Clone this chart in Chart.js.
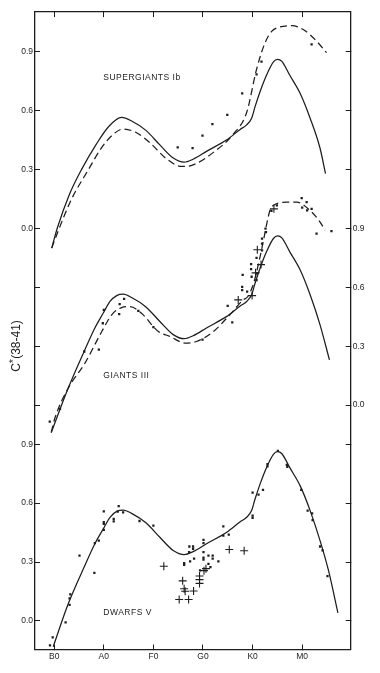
<!DOCTYPE html>
<html>
<head>
<meta charset="utf-8">
<script src="https://cdn.jsdelivr.net/npm/chart.js@4.4.1/dist/chart.umd.min.js"></script>
<style>
  html, body { margin: 0; padding: 0; background: #ffffff; }
  canvas { display: block; }
</style>
</head>
<body>
<canvas id="c" width="380" height="673"></canvas>
<script>
// ---------- DATA ----------
// Spectral type axis: subclasses counted from B0 (B0=0, A0=10, F0=20, G0=30, K0=40, M0=50)
const spectralTicks = [0, 10, 20, 30, 40, 50];
const spectralLabels = ['B0', 'A0', 'F0', 'G0', 'K0', 'M0'];
const cTicks = [0.0, 0.3, 0.6, 0.9];
const panelNames = ['SUPERGIANTS Ib', 'GIANTS III', 'DWARFS V'];

// Mean dwarf relation (solid curve, repeated in every panel)
const dwarfMeanX = [-0.2, 2.85, 6.2, 8.2, 9.9, 11.25, 12.6, 13.9, 15.6, 18.5, 21.3, 24.0, 26.2, 28.0, 30.7, 34.8, 37.5, 38.8, 39.8, 40.5, 41.5, 42.8, 44.2, 45.05, 45.9, 47.5, 49.6, 51.6, 53.6, 55.3, 57.2];
const dwarfMeanY = [-0.132, 0.088, 0.283, 0.393, 0.469, 0.528, 0.558, 0.565, 0.548, 0.500, 0.426, 0.359, 0.338, 0.353, 0.393, 0.452, 0.505, 0.528, 0.562, 0.621, 0.697, 0.781, 0.849, 0.862, 0.852, 0.781, 0.688, 0.562, 0.409, 0.257, 0.041];

const giantSolidX = [-0.6, 2.85, 6.2, 8.2, 9.9, 11.25, 12.6, 13.9, 15.6, 18.5, 21.3, 24.0, 26.2, 28.0, 30.7, 34.8, 37.5, 38.8, 39.8, 40.5, 41.5, 42.8, 44.2, 45.05, 45.9, 47.5, 49.6, 51.6, 53.6, 55.5];
const giantSolidY = [-0.14, 0.088, 0.283, 0.393, 0.469, 0.528, 0.558, 0.565, 0.548, 0.500, 0.426, 0.359, 0.338, 0.353, 0.393, 0.452, 0.505, 0.528, 0.562, 0.621, 0.697, 0.781, 0.849, 0.862, 0.852, 0.781, 0.688, 0.562, 0.409, 0.23];

const superSolidX = [-0.5, 0.6, 3.0, 5.5, 8.5, 11.0, 13.6, 15.6, 18.5, 21.3, 24.0, 26.2, 28.0, 30.7, 34.8, 37.5, 38.8, 39.8, 40.5, 41.5, 42.8, 44.2, 45.05, 45.9, 47.5, 49.6, 51.6, 53.6, 54.7];
const superSolidY = [-0.10, 0.0, 0.17, 0.30, 0.43, 0.52, 0.566, 0.548, 0.500, 0.426, 0.359, 0.338, 0.353, 0.393, 0.452, 0.505, 0.528, 0.562, 0.621, 0.697, 0.781, 0.849, 0.862, 0.852, 0.781, 0.688, 0.562, 0.409, 0.28];

// Giant mean relation (dashed)
const giantDashX = [-0.6, 0.16, 2.85, 6.2, 9.6, 11.6, 13.6, 15.3, 17.6, 21.0, 23.3, 26.4, 28.7, 32.1, 35.4, 38.1, 39.0, 40.2, 41.2, 42.2, 42.85, 43.5, 44.2, 46.9, 48.9, 51.9, 53.6, 54.6];
const giantDashY = [-0.14, -0.065, 0.087, 0.214, 0.375, 0.46, 0.497, 0.502, 0.468, 0.375, 0.35, 0.316, 0.324, 0.375, 0.46, 0.536, 0.552, 0.62, 0.721, 0.84, 0.924, 0.992, 1.018, 1.034, 1.034, 0.984, 0.933, 0.891];

// Supergiant mean relation (dashed)
const superDashX = [-0.5, 1.0, 3.5, 6.9, 9.5, 11.9, 13.9, 16.6, 19.3, 22.7, 25.7, 28.0, 32.1, 36.1, 38.8, 40.8, 42.5, 43.9, 45.5, 47.9, 50.2, 52.9, 54.9];
const superDashY = [-0.10, 0.0, 0.15, 0.30, 0.41, 0.48, 0.507, 0.488, 0.437, 0.354, 0.316, 0.324, 0.388, 0.481, 0.591, 0.811, 0.946, 1.006, 1.027, 1.034, 1.014, 0.955, 0.896];

// Observed stars
const superDotX = [24.9, 27.9, 29.9, 31.9, 34.9, 37.9, 40.8, 41.8, 51.9];
const superDotY = [0.413, 0.41, 0.473, 0.532, 0.579, 0.689, 0.785, 0.85, 0.938];

const giantDotX = [-0.9, 1.17, 6.07, 9.0, 10.0, 9.8, 13.2, 13.1, 14.1, 16.96, 20.0, 29.9, 34.98, 35.9, 38.0, 37.9, 37.9, 38.9, 39.7, 39.7, 39.8, 40.8, 40.9, 40.8, 41.9, 41.9, 41.9, 42.6, 42.7, 43.8, 44.9, 49.9, 50.9, 50.0, 51.0, 51.9, 52.9, 55.9];
const giantDotY = [-0.085, -0.019, 0.273, 0.282, 0.485, 0.417, 0.515, 0.463, 0.541, 0.48, 0.397, 0.333, 0.505, 0.421, 0.663, 0.603, 0.586, 0.578, 0.718, 0.693, 0.654, 0.75, 0.671, 0.637, 0.823, 0.848, 0.789, 0.899, 0.882, 0.99, 1.018, 1.055, 1.034, 1.006, 0.992, 1.0, 0.874, 0.886];
const giantPlusX = [37.1, 39.9, 40.95, 41.7, 40.6, 44.3];
const giantPlusY = [0.536, 0.558, 0.792, 0.716, 0.674, 1.0];

const dwarfDotX = [-0.85, -0.3, 2.3, 3.1, 3.1, 3.25, 5.1, 8.1, 8.2, 9.0, 10.0, 10.0, 10.0, 10.0, 12.0, 12.0, 13.0, 12.8, 13.9, 17.2, 20.0,
  26.2, 26.2, 27.25, 28.0, 28.0, 27.2, 27.4, 28.2, 30.1, 30.1, 30.1, 30.1, 30.1, 31.1, 31.95, 31.95, 33.1, 29.4, 31.1, 31.5, 34.1, 34.1, 35.2,
  40.0, 40.0, 40.0, 41.2, 42.1, 43.0, 43.0, 45.1, 46.9, 47.0, 49.8, 51.1, 52.0, 52.1, 53.6, 54.1, 55.1];
const dwarfDotY = [-0.125, -0.084, -0.008, 0.082, 0.114, 0.135, 0.333, 0.244, 0.396, 0.409, 0.464, 0.494, 0.503, 0.558, 0.52, 0.507, 0.585, 0.557, 0.553, 0.509, 0.486,
  0.286, 0.294, 0.379, 0.379, 0.367, 0.35, 0.303, 0.317, 0.413, 0.396, 0.35, 0.322, 0.312, 0.333, 0.332, 0.317, 0.303, 0.257, 0.291, 0.274, 0.482, 0.435, 0.44,
  0.536, 0.525, 0.654, 0.643, 0.668, 0.799, 0.788, 0.866, 0.795, 0.785, 0.668, 0.562, 0.548, 0.514, 0.379, 0.359, 0.228];
const dwarfPlusX = [22.1, 25.9, 26.2, 26.4, 25.2, 27.1, 28.1, 29.3, 29.3, 29.3, 30.2, 30.6, 35.3, 38.3];
const dwarfPlusY = [0.278, 0.204, 0.164, 0.151, 0.109, 0.109, 0.152, 0.229, 0.21, 0.191, 0.256, 0.266, 0.364, 0.357];

// ---------- LAYOUT (panel stacking) ----------
const X_MIN = -3.87, X_MAX = 59.78;
const G_MIN = -0.146, G_MAX = 3.103;        // global vertical range in dwarf units
const OFFSET_SUPER = 2.0, OFFSET_GIANT = 1.1; // vertical shifts of the upper panels
const INK = '#1d1d1d';
const FONT = '"Liberation Sans", Arial, sans-serif';

const pts = (xs, ys) => xs.map((x, i) => ({ x: x, y: ys[i] }));

const leftTicks = [];
cTicks.forEach(t => leftTicks.push({ v: t, label: t.toFixed(1) }));
cTicks.forEach(t => { if (t < 0.9) leftTicks.push({ v: t + OFFSET_GIANT, label: '' }); });
cTicks.forEach(t => leftTicks.push({ v: t + OFFSET_SUPER, label: t.toFixed(1) }));
const rightTicks = [];
cTicks.forEach(t => rightTicks.push({ v: t, label: '' }));
cTicks.forEach(t => rightTicks.push({ v: t + OFFSET_GIANT, label: t.toFixed(1) }));
cTicks.forEach(t => { if (t > 0) rightTicks.push({ v: t + OFFSET_SUPER, label: '' }); });
const findLabel = (list, v) => { const f = list.find(t => Math.abs(t.v - v) < 1e-6); return f ? f.label : ''; };

const gridCfg = { drawOnChartArea: false, drawTicks: true, tickLength: -5, color: INK, lineWidth: 1 };
const borderCfg = { display: true, color: INK, width: 1.3 };
const tickFont = { family: FONT, size: 8.5 };

const lineDs = (xs, ys, axis, dashed) => ({
  type: 'line', data: pts(xs, ys), yAxisID: axis, borderColor: INK, borderWidth: 1.25,
  borderDash: dashed ? [7, 4] : [], pointRadius: 0, fill: false, cubicInterpolationMode: 'monotone'
});
const dotDs = (xs, ys, axis) => ({
  type: 'scatter', data: pts(xs, ys), yAxisID: axis, showLine: false, pointStyle: 'rect',
  pointRadius: 1.6, backgroundColor: INK, borderColor: INK, borderWidth: 0
});
const plusDs = (xs, ys, axis) => ({
  type: 'scatter', data: pts(xs, ys), yAxisID: axis, showLine: false, pointStyle: 'cross',
  pointRadius: 4, borderColor: INK, borderWidth: 1.1
});

const figText = {
  id: 'figText',
  afterDraw(chart) {
    const ctx = chart.ctx, xs = chart.scales.x;
    ctx.save();
    ctx.fillStyle = INK;
    ctx.font = '8.5px ' + FONT;
    if ('letterSpacing' in ctx) ctx.letterSpacing = '0.5px';
    ctx.textAlign = 'left';
    ctx.textBaseline = 'middle';
    const spots = [['ySG', 0.77], ['yG', 0.15], ['y', 0.04]];
    panelNames.forEach((name, i) => {
      ctx.fillText(name, xs.getPixelForValue(9.9), chart.scales[spots[i][0]].getPixelForValue(spots[i][1]));
    });
    if ('letterSpacing' in ctx) ctx.letterSpacing = '0px';
    // y-axis title C*(38-41)
    ctx.translate(16.5, 346);
    ctx.rotate(-Math.PI / 2);
    ctx.font = '12px ' + FONT;
    const a = 'C', b = '*', c = '(38-41)';
    const wa = ctx.measureText(a).width, wc = ctx.measureText(c).width;
    ctx.font = '11px ' + FONT;
    const wb = ctx.measureText(b).width;
    let x0 = -(wa + wb + wc) / 2;
    ctx.font = '12px ' + FONT;
    ctx.fillText(a, x0, 0);
    ctx.font = '11px ' + FONT;
    ctx.fillText(b, x0 + wa, -3);
    ctx.font = '12px ' + FONT;
    ctx.fillText(c, x0 + wa + wb, 0);
    ctx.restore();
  }
};

new Chart(document.getElementById('c'), {
  type: 'scatter',
  data: {
    datasets: [
      lineDs(superSolidX, superSolidY, 'ySG', false),
      lineDs(superDashX, superDashY, 'ySG', true),
      dotDs(superDotX, superDotY, 'ySG'),
      lineDs(giantSolidX, giantSolidY, 'yG', false),
      lineDs(giantDashX, giantDashY, 'yG', true),
      dotDs(giantDotX, giantDotY, 'yG'),
      plusDs(giantPlusX, giantPlusY, 'yG'),
      lineDs(dwarfMeanX, dwarfMeanY, 'y', false),
      dotDs(dwarfDotX, dwarfDotY, 'y'),
      plusDs(dwarfPlusX, dwarfPlusY, 'y')
    ]
  },
  options: {
    responsive: false,
    devicePixelRatio: 1,
    animation: false,
    layout: { padding: 0 },
    plugins: { legend: { display: false }, tooltip: { enabled: false } },
    scales: {
      x: {
        type: 'linear', position: 'bottom', min: X_MIN, max: X_MAX,
        grid: gridCfg, border: borderCfg,
        afterBuildTicks: s => { s.ticks = spectralTicks.map(v => ({ value: v })); },
        ticks: { callback: (v, i) => spectralLabels[i], font: tickFont, color: INK, padding: 7, maxRotation: 0, autoSkip: false },
        afterFit: s => { s.height = 23.5; }
      },
      xTop: {
        type: 'linear', position: 'top', min: X_MIN, max: X_MAX,
        grid: gridCfg, border: borderCfg,
        afterBuildTicks: s => { s.ticks = spectralTicks.map(v => ({ value: v })); },
        ticks: { callback: () => '', font: tickFont },
        afterFit: s => { s.height = 9; }
      },
      y: {
        type: 'linear', position: 'left', min: G_MIN, max: G_MAX,
        grid: gridCfg, border: borderCfg,
        afterBuildTicks: s => { s.ticks = leftTicks.map(t => ({ value: t.v })); },
        ticks: { callback: v => findLabel(leftTicks, v), font: tickFont, color: INK, padding: 7, autoSkip: false },
        afterFit: s => { s.width = 35; }
      },
      yR: {
        type: 'linear', position: 'right', min: G_MIN, max: G_MAX,
        grid: gridCfg, border: borderCfg,
        afterBuildTicks: s => { s.ticks = rightTicks.map(t => ({ value: t.v })); },
        ticks: { callback: v => findLabel(rightTicks, v), font: tickFont, color: INK, padding: 7, autoSkip: false },
        afterFit: s => { s.width = 29.3; }
      },
      ySG: { type: 'linear', display: false, min: G_MIN - OFFSET_SUPER, max: G_MAX - OFFSET_SUPER },
      yG: { type: 'linear', display: false, min: G_MIN - OFFSET_GIANT, max: G_MAX - OFFSET_GIANT }
    }
  },
  plugins: [figText]
});
</script>
</body>
</html>
